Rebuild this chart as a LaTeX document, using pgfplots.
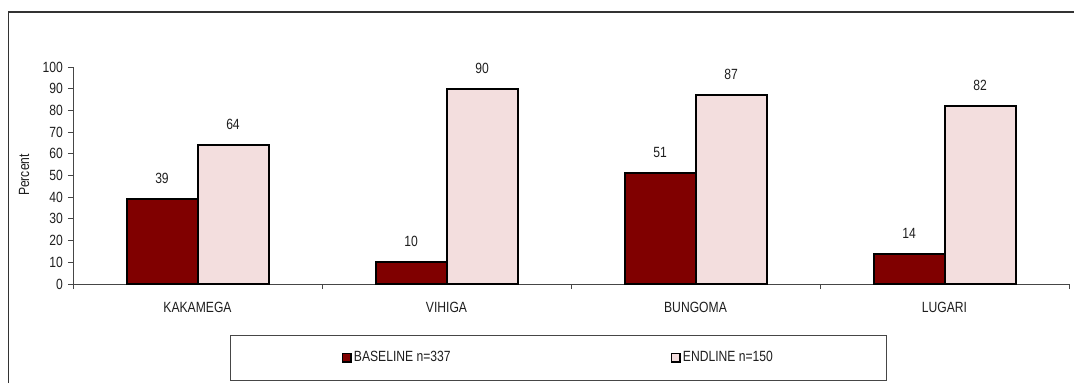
\documentclass[border=0pt]{standalone}
\usepackage{fontspec}
\setmainfont{Liberation Sans}[FakeStretch=0.82]
\usepackage{pgfplots}
\pgfplotsset{compat=1.18}

\definecolor{baseline}{RGB}{128,0,0}
\definecolor{endline}{RGB}{243,222,222}
\definecolor{framegray}{RGB}{51,51,51}
\definecolor{axisgray}{RGB}{70,70,70}
\definecolor{textgray}{RGB}{30,30,30}

% small framed square as legend marker
\pgfplotsset{sqlegend/.style={legend image code/.code={%
  \draw[##1, line width=1.6pt] (0pt,-4.3pt) rectangle (8.6pt,4.3pt);}}}

\begin{document}
\fontsize{14.8}{17.8}\selectfont
\begin{tikzpicture}[x=1pt,y=1pt]
\path[use as bounding box] (0,0) rectangle (1074,383);
% outer frame of the chart area
\draw[framegray, line width=1.2pt] (8.5,0) -- (8.5,371) -- (1074,371);
\node[rotate=90, text=textgray] at (24,208) {Percent};
\begin{axis}[
  at={(73pt,99pt)}, anchor=south west, scale only axis,
  width=996pt, height=217pt,
  xmin=-0.5, xmax=3.5, ymin=0, ymax=100,
  axis x line*=bottom, axis y line*=left,
  axis line style={axisgray, line width=0.8pt},
  tick style={axisgray, line width=0.8pt},
  tick align=outside,
  major tick length=5pt,
  ybar,
  bar width=71pt,
  ytick={0,10,...,100},
  yticklabel style={text=textgray},
  /pgf/number format/assume math mode=true,
  xtick={-0.5,0.5,1.5,2.5,3.5},
  xticklabels={,,,,,},
  extra x ticks={0,1,2,3},
  extra x tick labels={KAKAMEGA,VIHIGA,BUNGOMA,LUGARI},
  extra x tick style={tick style={draw=none}, tick label style={text=textgray, yshift=-8.5pt}},
  nodes near coords,
  every node near coord/.append style={inner sep=0pt, yshift=14.3pt, text=textgray},
  legend columns=2,
  legend style={
    at={(axis description cs:0.4873,-0.3396)}, anchor=center,
    draw=axisgray, line width=0.8pt,
    inner xsep=111pt, inner ysep=14.5pt,
    text=textgray,
    nodes={inner xsep=2pt},
    /tikz/every even column/.append style={column sep=218pt},
  },
]
\addplot[fill=baseline, draw=black, line width=2pt, bar shift=-35.5pt, sqlegend]
  coordinates {(0,39) (1,10) (2,51) (3,14)};
\addlegendentry{BASELINE n=337}
\addplot[fill=endline, draw=black, line width=2pt, bar shift=35.5pt, sqlegend]
  coordinates {(0,64) (1,90) (2,87) (3,82)};
\addlegendentry{ENDLINE n=150}
\end{axis}
\end{tikzpicture}
\end{document}
